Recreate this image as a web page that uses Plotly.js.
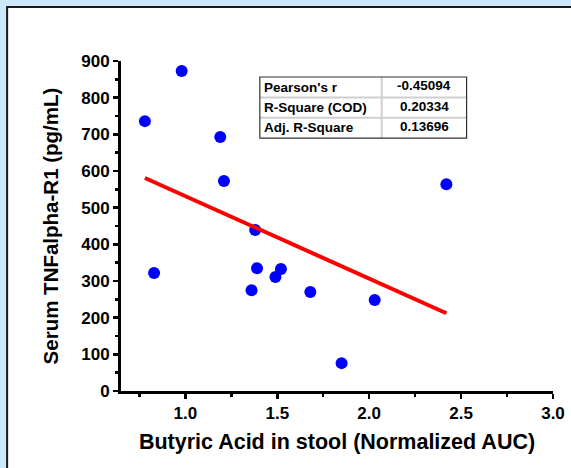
<!DOCTYPE html>
<html>
<head>
<meta charset="utf-8">
<script src="https://cdn.plot.ly/plotly-3.0.1.min.js"></script>
<style>html,body{margin:0;padding:0;background:#cce8fc;}#chart{width:571px;height:468px;}</style>
</head>
<body>
<div id="chart"></div>
<script>
// Data
const butyricAUC = [0.78, 0.98, 0.83, 1.19, 1.21, 1.38, 1.39, 1.36, 1.49, 1.52, 1.68, 1.85, 2.03, 2.42];
const tnfR1 = [736, 873, 322, 693, 573, 439, 335, 275, 311, 333, 270, 76, 248, 564];
const fitX = [0.78, 2.42];
const fitY = [581, 212];
const xTickVals = [1.0, 1.5, 2.0, 2.5, 3.0];
const xTickLabels = ["1.0", "1.5", "2.0", "2.5", "3.0"];
const yTickVals = [0, 100, 200, 300, 400, 500, 600, 700, 800, 900];
const yTickLabels = ["0", "100", "200", "300", "400", "500", "600", "700", "800", "900"];
const statLabels = ["Pearson's r", "R-Square (COD)", "Adj. R-Square"];
const statValues = ["-0.45094", "0.20334", "0.13696"];

const W = 571, H = 468;
const L = 121, R = 553.5, T = 61, B = 391;
const px = v => (v - L) / (R - L);
const py = v => (B - v) / (B - T);
const FONT = 'Liberation Sans, Arial, sans-serif';
const bold = s => '<b>' + s + '</b>';

const shapes = [];
const annotations = [];
// white panel with dark border
shapes.push({type:'rect', xref:'paper', yref:'paper', layer:'below',
  x0:px(7), x1:px(580), y0:py(7), y1:py(480),
  fillcolor:'#ffffff', line:{color:'#1a1a1a', width:2}});

// stats table
const tx0 = 260, tx1 = 467, tcol = 382, ty0 = 77, rowH = 20.4;
for (let i = 1; i < statLabels.length; i++) {
  shapes.push({type:'line', xref:'paper', yref:'paper', x0:px(tx0), x1:px(tx1),
    y0:py(ty0 + i*rowH), y1:py(ty0 + i*rowH), line:{color:'#cfcfcf', width:2}});
}
shapes.push({type:'line', xref:'paper', yref:'paper', x0:px(tcol), x1:px(tcol),
  y0:py(ty0), y1:py(ty0 + statLabels.length*rowH), line:{color:'#cfcfcf', width:2}});
shapes.push({type:'rect', xref:'paper', yref:'paper', x0:px(tx0), x1:px(tx1),
  y0:py(ty0), y1:py(ty0 + statLabels.length*rowH), line:{color:'#333333', width:1.2}});
statLabels.forEach((lab, i) => {
  const yc = ty0 + (i + 0.5)*rowH;
  annotations.push({xref:'paper', yref:'paper', x:px(tx0 + 2), y:py(yc), xanchor:'left', yanchor:'middle',
    text:bold(lab), showarrow:false, font:{family:FONT, size:13.5, color:'#000'}});
  annotations.push({xref:'paper', yref:'paper', x:px((tcol + tx1)/2), y:py(yc - 1.5), xanchor:'center', yanchor:'middle',
    text:bold(statValues[i]), showarrow:false, font:{family:FONT, size:13.5, color:'#000'}});
});

const traces = [
  {x: butyricAUC, y: tnfR1, type:'scatter', mode:'markers',
   marker:{color:'#0000ff', size:12}, cliponaxis:false},
  {x: fitX, y: fitY, type:'scatter', mode:'lines',
   line:{color:'#ff0000', width:4}, cliponaxis:false}
];

const layout = {
  width:W, height:H,
  paper_bgcolor:'#cce8fc', plot_bgcolor:'rgba(0,0,0,0)',
  margin:{l:L, r:W-R, t:T, b:H-B, pad:0},
  showlegend:false,
  font:{family:FONT, color:'#000'},
  xaxis:{range:[0.65, 3.0], tickmode:'array', tickvals:xTickVals, ticktext:xTickLabels.map(bold),
    showgrid:false, zeroline:false, showline:true, linecolor:'#000', linewidth:3,
    ticks:'outside', ticklen:5, tickwidth:2.5, tickcolor:'#000',
    minor:{tickmode:'linear', tick0:0, dtick:0.25, ticks:'outside', ticklen:3, tickwidth:2.5, tickcolor:'#000'},
    tickfont:{family:FONT, size:17, color:'#000'},
    title:{text:bold('Butyric Acid in stool (Normalized AUC)'), font:{family:FONT, size:21.5, color:'#000'}, standoff:12}},
  yaxis:{range:[0, 900], tickmode:'array', tickvals:yTickVals, ticktext:yTickLabels.map(bold),
    showgrid:false, zeroline:false, showline:true, linecolor:'#000', linewidth:3,
    ticks:'outside', ticklen:5, tickwidth:2.5, tickcolor:'#000',
    minor:{tickmode:'linear', tick0:0, dtick:50, ticks:'outside', ticklen:3, tickwidth:2.5, tickcolor:'#000'},
    tickfont:{family:FONT, size:17, color:'#000'},
    title:{text:bold('Serum TNFalpha-R1 (pg/mL)'), font:{family:FONT, size:20.5, color:'#000'}, standoff:18}},
  shapes: shapes,
  annotations: annotations
};

Plotly.newPlot('chart', traces, layout, {displayModeBar:false, staticPlot:true});
</script>
</body>
</html>
